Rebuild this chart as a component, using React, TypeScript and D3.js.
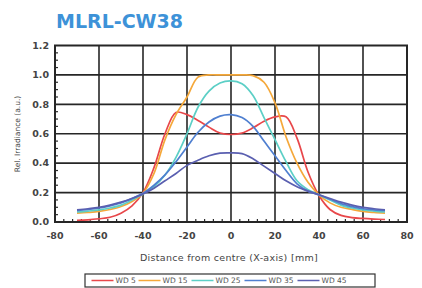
import React from "react";
import * as d3 from "d3";

const title = "MLRL-CW38";
const xLabel = "Distance from centre (X-axis) [mm]";
const yLabel = "Rel. Irradiance (a.u.)";

const xs = [-70, -65, -60, -55, -50, -45, -40, -35, -30, -25, -20, -15, -10, -5, 0, 5, 10, 15, 20, 25, 30, 35, 40, 45, 50, 55, 60, 65, 70];

const wd5 = [0.012, 0.015, 0.022, 0.032, 0.06, 0.11, 0.2, 0.37, 0.6, 0.745, 0.73, 0.69, 0.645, 0.605, 0.595, 0.605, 0.64, 0.685, 0.715, 0.715, 0.57, 0.34, 0.18, 0.085, 0.045, 0.03, 0.024, 0.02, 0.017];
const wd15 = [0.06, 0.065, 0.072, 0.085, 0.105, 0.14, 0.195, 0.33, 0.56, 0.73, 0.85, 0.985, 1.0, 1.0, 1.0, 1.0, 0.995, 0.95, 0.81, 0.58, 0.4, 0.27, 0.185, 0.13, 0.1, 0.085, 0.072, 0.065, 0.06];
const wd25 = [0.068, 0.074, 0.082, 0.095, 0.115, 0.15, 0.19, 0.24, 0.32, 0.44, 0.6, 0.78, 0.89, 0.945, 0.96, 0.94, 0.86, 0.71, 0.56, 0.41, 0.28, 0.22, 0.185, 0.15, 0.115, 0.095, 0.082, 0.074, 0.068];
const wd35 = [0.078, 0.085, 0.095, 0.11, 0.13, 0.16, 0.195, 0.25, 0.32, 0.41, 0.51, 0.61, 0.68, 0.72, 0.73, 0.71, 0.65, 0.55, 0.45, 0.35, 0.26, 0.21, 0.185, 0.155, 0.125, 0.105, 0.09, 0.083, 0.078];
const wd45 = [0.082, 0.09, 0.1, 0.115, 0.135, 0.16, 0.19, 0.23, 0.28, 0.33, 0.385, 0.42, 0.45, 0.468, 0.47, 0.465, 0.43, 0.38, 0.33, 0.28, 0.24, 0.21, 0.185, 0.16, 0.135, 0.115, 0.1, 0.09, 0.082];

const seriesNames = ["WD 5", "WD 15", "WD 25", "WD 35", "WD 45"];
const seriesValues = [wd5, wd15, wd25, wd35, wd45];
const seriesColors = ["#e8474a", "#f5a83a", "#5ccfc6", "#4f7fd0", "#5a5fb0"];

const xTicks = [-80, -60, -40, -20, 0, 20, 40, 60, 80];
const yTicks = [0, 0.2, 0.4, 0.6, 0.8, 1.0, 1.2];

export default function App() {
  const W = 422, H = 288;
  const L = 55, R = 407, T = 45.5, B = 222;
  const x = d3.scaleLinear().domain([-80, 80]).range([L, R]);
  const y = d3.scaleLinear().domain([0, 1.2]).range([B, T]);
  const line = d3
    .line<number>()
    .x((_, i) => x(xs[i]))
    .y((v) => y(v))
    .curve(d3.curveCatmullRom.alpha(0.5));

  const minorX = d3.range(-80, 80.01, 4).filter((v) => Math.abs(v % 20) > 0.01);
  const minorY = d3.range(0, 1.2001, 0.05).filter((v) => Math.abs((v * 100) % 20) > 0.5 && Math.abs((v * 100) % 20) < 19.5);

  const legendY = 280.5;
  const lineLen = 22;
  const font = "DejaVu Sans, sans-serif";
  const textWidths = [20, 26, 26, 26, 26];
  let cursor = 91.5;
  const legendItems = seriesNames.map((n, i) => {
    const item = { x: cursor, name: n, color: seriesColors[i] };
    cursor += lineLen + 2 + textWidths[i] + 3;
    return item;
  });

  return (
    <svg width={W} height={H} style={{ position: "absolute", left: 0, top: 0 }}>
      <rect width={W} height={H} fill="#fff" />
      <text x={56} y={27.5} fontFamily={font} fontWeight="bold" fontSize={19} fill="#3d92d8">
        {title}
      </text>
      {xTicks.slice(1, -1).map((t) => (
        <line key={"gx" + t} x1={x(t)} x2={x(t)} y1={T} y2={B} stroke="#262626" strokeWidth={1.6} />
      ))}
      {yTicks.slice(1, -1).map((t) => (
        <line key={"gy" + t} x1={L} x2={R} y1={y(t)} y2={y(t)} stroke="#262626" strokeWidth={1.6} />
      ))}
      {minorX.map((t) => (
        <line key={"mx" + t} x1={x(t)} x2={x(t)} y1={B} y2={B - 3} stroke="#2a2a2a" strokeWidth={1.2} />
      ))}
      {minorY.map((t) => (
        <line key={"my" + t} x1={L} x2={L + 3} y1={y(t)} y2={y(t)} stroke="#2a2a2a" strokeWidth={1.2} />
      ))}
      <rect x={L} y={T} width={R - L} height={B - T} fill="none" stroke="#262626" strokeWidth={2} />
      {seriesValues.map((vals, i) => (
        <path key={seriesNames[i]} d={line(vals) || ""} fill="none" stroke={seriesColors[i]} strokeWidth={1.7} />
      ))}
      {xTicks.map((t) => (
        <text key={"xl" + t} x={x(t)} y={239} textAnchor="middle" fontFamily={font} fontSize={9.5} fontWeight="bold" fill="#444">
          {t}
        </text>
      ))}
      {yTicks.map((t) => (
        <text key={"yl" + t} x={49} y={y(t) + 3.3} textAnchor="end" fontFamily={font} fontSize={9.5} fontWeight="bold" fill="#444">
          {t.toFixed(1)}
        </text>
      ))}
      <text x={229} y={261} textAnchor="middle" fontFamily={font} fontSize={9.5} letterSpacing={0.3} fill="#444">
        {xLabel}
      </text>
      <text transform={`translate(20,134) rotate(-90)`} textAnchor="middle" fontFamily={font} fontSize={7.5} fill="#444">
        {yLabel}
      </text>
      <rect x={85} y={274} width={290} height={13} fill="#fff" stroke="#333" strokeWidth={1.2} />
      {legendItems.map((it) => (
        <g key={it.name}>
          <line x1={it.x} x2={it.x + lineLen} y1={legendY} y2={legendY} stroke={it.color} strokeWidth={1.5} />
          <text x={it.x + lineLen + 2} y={legendY + 2.6} fontFamily={font} fontSize={7.5} fill="#555">
            {it.name}
          </text>
        </g>
      ))}
    </svg>
  );
}
